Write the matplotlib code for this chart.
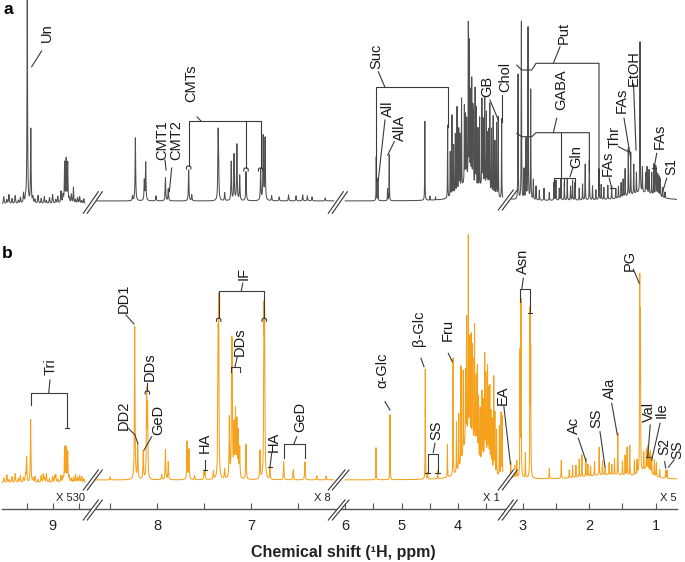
import numpy as np
import matplotlib.pyplot as plt
from matplotlib.patches import Polygon
from matplotlib.lines import Line2D

plt.rcParams['font.family'] = ['Liberation Sans', 'DejaVu Sans']

W, H = 685, 562

# broken ppm axis: knots (ppm ascending) -> pixel column of the figure
knot_ppm = np.array([-10.0, 0.68, 3.19, 3.21, 6.00, 6.12, 8.68, 8.69, 9.49, 20.0])
knot_px = np.array([1387.2, 677.0, 510.1, 502.8, 345.2, 333.7, 93.1, 84.9, 1.7, -1091.3])
seg_bounds = [(8.69, 9.49), (6.12, 8.68), (3.21, 6.00), (0.68, 3.19)]
seg_width = [0.003, 0.0035, 0.003, 0.003]
seg_offset = [-3, 0, 0, 0]
seg_scale = ['X 530', 'X 8', 'X 1', 'X 5']

# panel a peaks (ppm, height)
a_pos = [9.244, 9.21, 8.885, 8.87, 8.855, 8.80,
         8.26, 8.23, 8.135, 8.12, 8.01, 7.91, 7.88, 7.663, 7.63, 7.35, 7.345, 7.28, 7.21, 7.18,
         7.15, 7.12, 7.053, 6.897, 6.87, 6.85, 6.78, 6.70, 6.60, 6.52, 6.45, 6.40, 6.35, 6.21,
         5.45, 5.42, 5.25, 5.22, 4.59, 4.50, 4.40, 4.186, 4.11, 4.05, 4.02, 3.97, 3.94, 3.89, 3.85,
         3.82, 3.80, 3.76, 3.73, 3.70, 3.65, 3.58, 3.53, 3.48, 3.44, 3.38, 3.32, 3.29, 3.23,
         3.07, 3.02, 2.95, 2.92, 2.88, 2.84, 2.75, 2.68, 2.60, 2.529, 2.50, 2.424, 2.374, 2.33, 2.25,
         2.213, 2.15, 2.06, 1.998, 1.95, 1.90, 1.853, 1.78, 1.72, 1.662, 1.60, 1.52, 1.46, 1.412,
         1.376, 1.33, 1.29, 1.236, 1.20, 1.15, 1.10, 1.06, 1.026, 1.00, 0.97, 0.93, 0.895, 0.86]
a_hgt = [203, 74, 40, 43, 40, 16,
         5, 63, 20, 38, 5, 23, 12, 31, 6, 59, 40, 8, 39, 46,
         56, 25, 29, 31, 64, 62, 5, 4, 6, 5, 6, 5, 4, 3,
         44, 22, 12, 46, 79, 4, 3, 73, 81, 60, 86, 55, 89, 76, 60,
         156, 138, 104, 70, 99, 60, 86, 88, 55, 88, 79, 74, 81, 80,
         125, 178, 60, 172, 110, 20, 10, 12, 8, 18, 20, 21, 18, 22, 20,
         18, 12, 36, 40, 14, 10, 31, 12, 14, 13, 10, 15, 28, 48,
         43, 30, 21, 151, 25, 20, 24, 22, 31, 28, 22, 18, 10, 6]
a_cluster_pos = [4.14, 4.08, 3.99, 3.87, 3.78, 3.74, 3.68, 3.62, 3.56, 3.50, 3.46, 3.41, 3.35,
                 2.98, 2.80, 2.45, 2.28, 2.10, 1.82, 1.56, 1.49, 1.13, 0.99, 0.95]
a_cluster_hgt = [45, 50, 62, 65, 90, 75, 80, 70, 65, 75, 60, 65, 55,
                 30, 14, 12, 14, 16, 15, 12, 18, 26, 25, 20]
a_broad_pos = [3.85, 3.55, 1.20]
a_broad_hgt = [18, 12, 8]
a_broad_wid = [0.12, 0.10, 0.25]

# panel b peaks (ppm, height)
b_pos = [9.25, 9.2115, 9.09, 8.98, 8.885, 8.87, 8.855, 8.80,
         8.50, 8.237, 8.205, 8.146, 8.11, 8.10, 7.95, 7.91, 7.88, 7.68, 7.66, 7.60, 7.50, 7.489,
         7.40, 7.35, 7.344, 7.28, 7.205, 7.20, 7.165, 7.15, 7.135, 7.053, 6.904, 6.862, 6.855,
         6.798, 6.652, 6.55, 6.426, 6.30, 6.20,
         5.455, 5.207, 4.582, 4.54, 4.36, 4.19, 4.09, 4.03, 3.95, 3.91, 3.87, 3.82, 3.80, 3.77,
         3.74, 3.71, 3.68, 3.64, 3.61, 3.56, 3.53, 3.48, 3.44, 3.40, 3.37, 3.32, 3.27, 3.24, 3.22,
         3.18, 3.09, 3.04, 3.025, 2.89, 2.88, 2.60, 2.42, 2.30, 2.20, 2.15, 2.11, 2.05, 1.98, 1.92,
         1.85, 1.80, 1.76, 1.66, 1.57, 1.50, 1.43, 1.39, 1.32, 1.24, 1.23, 1.18, 1.14, 1.10, 1.06,
         1.02, 0.99, 0.94, 0.85, 0.83]
b_hgt = [25, 63, 8, 6, 35, 34, 30, 5,
         3, 153, 35, 28, 85, 70, 5, 30, 18, 38, 30, 4, 7, 8,
         8, 112, 157, 10, 105, 100, 65, 55, 45, 35, 28, 150, 140,
         12, 18, 10, 18, 4, 4,
         32, 65, 110, 6, 8, 33, 117, 50, 97, 83, 70, 203, 90, 110,
         80, 118, 70, 60, 53, 60, 102, 90, 77, 50, 95, 45, 50, 63, 60,
         15, 17, 123, 175, 162, 120, 10, 18, 8, 12, 18, 22, 18, 10, 14,
         28, 14, 8, 10, 42, 14, 28, 30, 15, 188, 150, 18, 20, 18, 18,
         16, 14, 8, 8, 8]
b_cluster_pos = [7.23, 7.18, 7.12, 3.99, 3.85, 3.79, 3.75, 3.66, 3.58, 3.51, 3.46, 3.42, 3.35,
                 3.12, 2.96, 2.25, 2.02, 1.70, 1.62, 1.46, 1.28, 1.12, 1.08]
b_cluster_hgt = [60, 50, 30, 55, 120, 100, 95, 85, 70, 80, 70, 55, 60,
                 12, 25, 12, 12, 12, 16, 20, 14, 24, 22]
b_broad_pos = [3.85, 3.70, 3.50, 1.70, 1.15]
b_broad_hgt = [35, 25, 20, 5, 8]
b_broad_wid = [0.08, 0.06, 0.07, 0.45, 0.08]

# baseline noise in the first (X 530) segment
noise_pos = [9.47, 9.44, 9.42, 9.39, 9.36, 9.33, 9.31, 9.28, 9.26, 9.19, 9.17, 9.14, 9.11, 9.08,
             9.06, 9.03, 9.00, 8.97, 8.95, 8.92, 8.90, 8.84, 8.82, 8.78, 8.76, 8.74, 8.72, 8.70]
a_noise = [7, 4, 9, 5, 8, 3, 6, 10, 5, 6, 4, 8, 5, 7, 3, 6, 9, 4, 7, 12, 8, 5, 9, 4, 6, 7, 3, 5]
b_noise = [5, 8, 3, 6, 9, 4, 7, 5, 8, 4, 6, 3, 7, 5, 9, 4, 6, 8, 3, 7, 5, 6, 4, 8, 5, 7, 6, 4]

# labels: (text, ppm, height, leader path)
a_labels = [
    ('Un', 9.058, 168, [(9.106, 150), (9.202, 134.3)]),
    ('CMT1', 7.947, 61, [(7.915, 41), (7.904, 31)]),
    ('CMT2', 7.799, 61, [(7.844, 33), (7.869, 9.3)]),
    ('CMTs', 7.631, 118, [(7.574, 84), (7.532, 80)]),
    ('Suc', 5.442, 144.3, [(5.414, 129.3), (5.296, 113.7)]),
    ('All', 5.237, 92.7, [(5.296, 81), (5.414, 21)]),
    ('AllA', 5.030, 72.7, [(5.131, 59.3), (5.248, 46)]),
    ('GB', 3.478, 114.3, [(3.437, 101), (3.290, 81)]),
    ('Chol', 3.204, 124.3, [(3.230, 106), (3.230, 79.3)]),
    ('Put', 2.389, 167.7, [(2.439, 154.3), (2.540, 137.7)]),
    ('GABA', 2.414, 111, [(2.489, 82.7), (2.540, 68.3)]),
    ('Gln', 2.188, 44.3, [(2.248, 32.7), (2.289, 24.3)]),
    ('FAs', 1.728, 37.7, [(1.698, 22.7), (1.662, 12.7)]),
    ('Thr', 1.612, 64.3, [(1.562, 54.3), (1.412, 49.3)]),
    ('FAs', 1.511, 101, [(1.477, 82.7), (1.376, 42.7)]),
    ('EtOH', 1.337, 132.7, [(1.334, 117), (1.296, 51)]),
    ('FAs', 0.946, 64.3, [(0.985, 47.7), (1.026, 32.7)]),
    ('S1', 0.759, 34.3, [(0.835, 22.7), (0.895, 9.3)]),
]
a_brackets = [
    [(7.663, 35), (7.663, 80), (6.897, 80), (6.897, 33)],
    [(7.053, 80), (7.053, 33)],
    [(5.45, 20), (5.45, 113.7), (4.186, 113.7), (4.186, 74)],
    [(1.853, 11), (1.853, 137.7), (2.80, 137.7), (2.865, 131), (3.015, 131), (3.09, 136)],
    [(1.998, 29), (1.998, 68.3), (2.80, 68.3), (2.865, 64.3), (3.015, 64.3), (3.09, 67.7)],
    [(2.424, 68.3), (2.424, 21)],
    [(2.529, 15), (2.529, 22.7), (2.213, 22.7), (2.213, 15)],
    [(2.374, 22.7), (2.374, 15)],
]
a_caps = [(7.663, 35, 'arch'), (7.053, 33, 'arch'), (6.897, 33, 'arch'),
          (1.662, 12.7, 'flat'), (1.026, 32.7, 'flat')]

b_labels = [
    ('Tri', 9.019, 113.3, [(9.026, 100), (9.038, 86.7)]),
    ('DD1', 8.351, 181.7, [(8.330, 165), (8.245, 156)]),
    ('DD2', 8.351, 65, [(8.305, 51.7), (8.234, 45), (8.205, 36.7)]),
    ('DDs', 8.082, 113.3, [(8.103, 97), (8.103, 89)]),
    ('GeD', 7.986, 60, [(8.056, 43.3), (8.138, 30)]),
    ('HA', 7.489, 36.7, [(7.489, 20), (7.489, 10)]),
    ('IF', 7.074, 206.7, [(7.088, 196.7), (7.103, 189)]),
    ('DDs', 7.124, 138.3, [(7.146, 123.3), (7.170, 113.3)]),
    ('HA', 6.755, 38.3, [(6.780, 26.7), (6.798, 12.7)]),
    ('GeD', 6.479, 63.3, [(6.514, 43.3), (6.543, 36)]),
    ('α-Glc', 5.336, 110, [(5.296, 78.3), (5.207, 70)]),
    ('β-Glc', 4.694, 151.7, [(4.658, 121.7), (4.605, 113.3)]),
    ('SS', 4.381, 50, [(4.411, 36.7), (4.441, 27.3)]),
    ('Fru', 4.186, 150, [(4.175, 126.7), (4.104, 118.3)]),
    ('EA', 3.212, 85, [(3.207, 73.3), (3.185, 16)]),
    ('Asn', 2.991, 218.3, [(2.991, 201.7), (3.015, 190.7)]),
    ('PG', 1.387, 220, [(1.337, 210.7), (1.247, 196.7)]),
    ('Ac', 2.229, 55, [(2.164, 41.7), (2.048, 19)]),
    ('SS', 1.887, 61.7, [(1.838, 48.3), (1.763, 13.3)]),
    ('Ala', 1.687, 91.7, [(1.662, 76.7), (1.577, 45)]),
    ('Val', 1.098, 68.3, [(1.083, 55), (1.120, 23.3)]),
    ('Ile', 0.905, 70, [(0.935, 56.7), (1.060, 20)]),
    ('S2', 0.875, 33.3, [(0.866, 18.3), (0.850, 12)]),
    ('SS', 0.682, 30, [(0.725, 20), (0.81, 12.7)]),
]
b_brackets = [
    [(9.212, 75), (9.212, 86.7), (8.860, 86.7), (8.860, 52)],
    [(7.344, 161.7), (7.344, 189), (6.859, 189), (6.859, 161.7)],
    [(7.216, 108), (7.216, 113.3), (7.117, 113.3), (7.117, 108)],
    [(6.652, 21.7), (6.652, 36), (6.426, 36), (6.426, 21.7)],
    [(4.540, 7.3), (4.540, 26), (4.363, 26), (4.363, 7.3)],
    [(3.041, 178.3), (3.041, 190.7), (2.890, 190.7), (2.890, 166.7)],
]
b_caps = [(8.860, 52, 'flat'), (7.344, 161.7, 'arch'), (6.859, 161.7, 'arch'),
          (8.103, 89, 'arch'), (7.489, 10, 'flat'), (6.798, 12.7, 'flat'),
          (4.540, 7.3, 'flat'), (4.363, 7.3, 'flat'), (2.890, 166.7, 'flat'),
          (1.120, 23.3, 'flat')]


def fwd(p):
    return -np.interp(p, knot_ppm, knot_px)


def inv(v):
    return np.interp(v, -knot_px, knot_ppm)


def lorentz(g, pos, hgt, wid):
    pos = np.asarray(pos)[None, :]
    hgt = np.asarray(hgt)[None, :]
    wid = np.asarray(wid)
    return (hgt / (1 + ((g[:, None] - pos) / wid) ** 2)).sum(axis=1)


def draw_spectrum(ax, pos, hgt, bpos, bhgt, bwid, noise, color):
    pos = np.asarray(pos)
    for (lo, hi), wd, off in zip(seg_bounds, seg_width, seg_offset):
        g = np.union1d(np.linspace(lo, hi, 9000), pos[(pos >= lo) & (pos <= hi)])
        y = off + lorentz(g, pos, hgt, wd) + lorentz(g, bpos, bhgt, np.asarray(bwid)[None, :])
        if off:
            y += lorentz(g, noise_pos, noise, 0.004)
        ax.plot(g, y, color=color, lw=0.75)


def dppm(p, npx):
    return abs(inv(fwd(p) + npx) - p)


def draw_labels(ax, labels, brackets, caps):
    lc = '#3a3a3a'
    for text, tp, th, path in labels:
        ax.text(tp, th, text, rotation=90, ha='center', va='center',
                fontsize=10.5 if tp > 0.9 else 10, color='#1a1a1a')
        xs, ys = zip(*path)
        ax.plot(xs, ys, color=lc, lw=0.8)
    for path in brackets:
        xs, ys = zip(*path)
        ax.plot(xs, ys, color=lc, lw=0.8)
    for p, h, kind in caps:
        d = dppm(p, 2.2)
        if kind == 'flat':
            ax.plot([p - d, p + d], [h, h], color=lc, lw=0.8)
        else:
            ax.plot([p - d, p - d, p - d * 0.5, p + d * 0.5, p + d, p + d],
                    [h - 3, h - 1, h, h, h - 1, h - 3], color=lc, lw=0.8)


def px_rect(x0, y0, x1, y1):
    return [x0 / W, 1 - y1 / H, (x1 - x0) / W, (y1 - y0) / H]


def fpt(x, y):
    return (x / W, 1 - y / H)


fig = plt.figure(figsize=(6.85, 5.62), dpi=100)
ax_a = fig.add_axes(px_rect(1.7, 0, 677, 215))
ax_b = fig.add_axes(px_rect(1.7, 225, 677, 509))

for ax in (ax_a, ax_b):
    ax.set_xscale('function', functions=(fwd, inv))
    ax.set_xlim(9.49, 0.68)
    ax.patch.set_alpha(0)
    for s in ('top', 'right', 'left'):
        ax.spines[s].set_visible(False)
    ax.set_yticks([])

ax_a.set_ylim(-14, 201)
ax_b.set_ylim(-29, 255)
ax_a.spines['bottom'].set_visible(False)
ax_a.set_xticks([])

draw_spectrum(ax_a, a_pos + a_cluster_pos, a_hgt + a_cluster_hgt,
              a_broad_pos, a_broad_hgt, a_broad_wid, a_noise, '#505050')
draw_spectrum(ax_b, b_pos + b_cluster_pos, b_hgt + b_cluster_hgt,
              b_broad_pos, b_broad_hgt, b_broad_wid, b_noise, '#f5a11c')
draw_labels(ax_a, a_labels, a_brackets, a_caps)
draw_labels(ax_b, b_labels, b_brackets, b_caps)

ax_b.set_xticks([9, 8, 7, 6, 5, 4, 3, 2, 1])
ax_b.set_xticklabels(['9', '8', '7', '6', '5', '4', '3', '2', '1'])
ax_b.set_xticks([9.25, 8.75, 8.5, 7.5, 6.5, 5.5, 4.5, 3.5, 2.5, 1.5], minor=True)
ax_b.tick_params(axis='x', which='both', direction='in', length=4, width=0.8,
                 color='#555555', labelsize=10.5, pad=7, labelcolor='#222222')
ax_b.spines['bottom'].set_color('#555555')
ax_b.spines['bottom'].set_linewidth(1.0)

# break marks
breaks = [(83.3, 213.3, 98.3, 191.7), (328.3, 213.3, 343.3, 191.7), (498.3, 210, 513.3, 190),
          (83.3, 490, 98.3, 470), (328.3, 490, 345, 470), (498.3, 490, 513.3, 470),
          (83.3, 520, 98.3, 500), (328.3, 520, 345, 500), (498.3, 520, 513.3, 500)]
for x1, y1, x2, y2 in breaks:
    fig.add_artist(Polygon([fpt(x1, y1), fpt(x2, y2), fpt(x2 + 4, y2), fpt(x1 + 4, y1)],
                           closed=True, facecolor='white', edgecolor='none',
                           transform=fig.transFigure))
    for dx in (0, 4):
        (ax0, ay0), (ax1, ay1) = fpt(x1 + dx, y1), fpt(x2 + dx, y2)
        fig.add_artist(Line2D([ax0, ax1], [ay0, ay1], color='#333333', lw=0.8,
                              transform=fig.transFigure))

for txt, x in zip(seg_scale, [71, 322.7, 491.7, 668.3]):
    fig.text(*fpt(x, 498.3), txt, ha='center', va='center', fontsize=8, color='#222222')

fig.text(*fpt(8, 9), 'a', ha='center', va='center', fontsize=12.5, fontweight='bold')
fig.text(*fpt(7, 254), 'b', ha='center', va='center', fontsize=12.5, fontweight='bold')
fig.text(*fpt(343, 552), 'Chemical shift (¹H, ppm)', ha='center', va='center',
         fontsize=11.5, fontweight='bold', color='#222222')

fig.savefig('out.png', dpi=100)
